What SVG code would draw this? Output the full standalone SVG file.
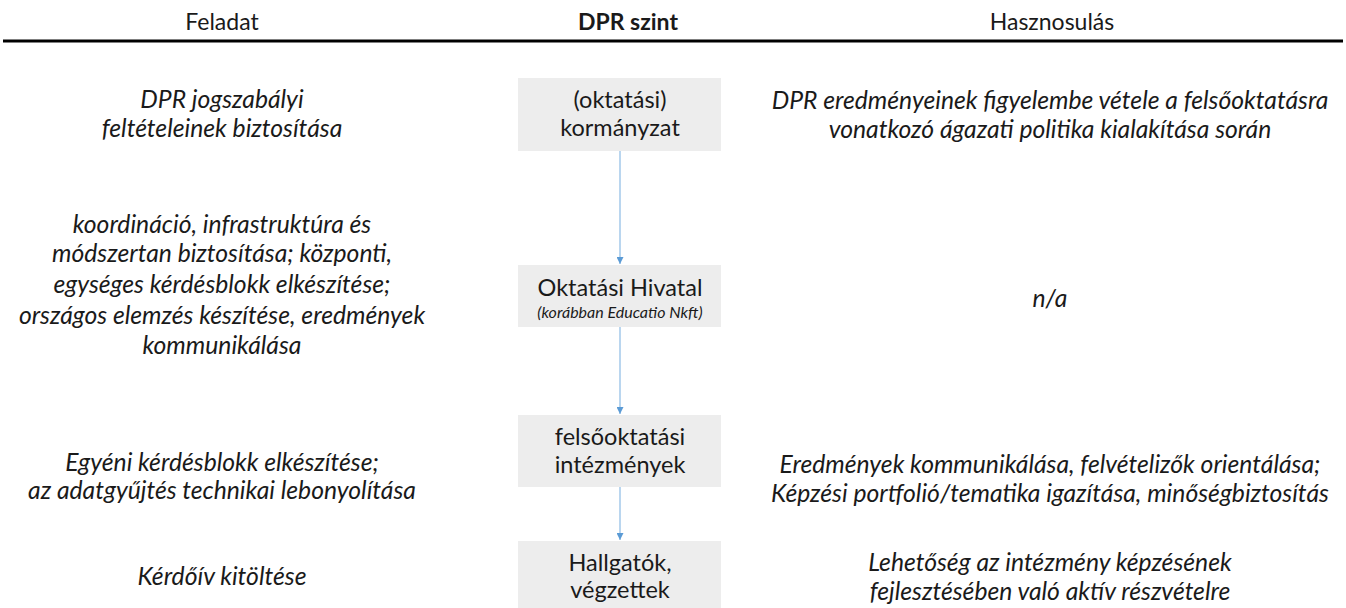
<svg xmlns="http://www.w3.org/2000/svg" width="1346" height="608" viewBox="0 0 1346 608">
<defs>
<style>
text{font-family:Lato,"Liberation Sans",sans-serif;fill:#1a1a1a;text-anchor:middle}
.hd{font-size:23px}
.hb{font-size:23px;font-weight:bold}
.it{font-size:24.7px;font-style:italic}
.bx{font-size:23.5px}
.sm{font-size:16px;font-style:italic}
.box{fill:#EDEDED}
.ln{stroke:#A9CCEB;stroke-width:1.6;fill:none}
</style>
<marker id="ah" viewBox="0 0 10 10" refX="10" refY="5" markerWidth="7" markerHeight="7" orient="auto" markerUnits="userSpaceOnUse"><path d="M0,0L10,5L0,10z" fill="#5B9BD5"/></marker>
</defs>
<rect width="1346" height="608" fill="#fff"/>
<g id="header">
<text class="hd" x="222" y="30">Feladat</text>
<text class="hb" x="628" y="30">DPR szint</text>
<text class="hd" x="1052" y="30">Hasznosulás</text>
<line x1="3" y1="41" x2="1343" y2="41" stroke="#000" stroke-width="3"/>
</g>
<g id="connectors">
<line class="ln" x1="620" y1="151" x2="620" y2="264" marker-end="url(#ah)"/>
<line class="ln" x1="620" y1="327" x2="620" y2="414" marker-end="url(#ah)"/>
<line class="ln" x1="620" y1="487" x2="620" y2="540" marker-end="url(#ah)"/>
</g>
<g id="n1">
<rect class="box" x="518" y="78" width="203" height="73"/>
<text class="bx" x="620" y="108">(oktatási)</text>
<text class="bx" x="620" y="136">kormányzat</text>
</g>
<g id="n2">
<rect class="box" x="518" y="265" width="203" height="62"/>
<text class="bx" x="620" y="296">Oktatási Hivatal</text>
<text class="sm" x="620" y="318">(korábban Educatio Nkft)</text>
</g>
<g id="n3">
<rect class="box" x="518" y="415" width="203" height="72"/>
<text class="bx" x="620" y="445">felsőoktatási</text>
<text class="bx" x="620" y="473">intézmények</text>
</g>
<g id="n4">
<rect class="box" x="518" y="541" width="203" height="67"/>
<text class="bx" x="620" y="571">Hallgatók,</text>
<text class="bx" x="620" y="598">végzettek</text>
</g>
<g id="left">
<text class="it" x="222" y="108">DPR jogszabályi</text>
<text class="it" x="222" y="137">feltételeinek biztosítása</text>
<text class="it" x="222" y="233">koordináció, infrastruktúra és</text>
<text class="it" x="222" y="262">módszertan biztosítása; központi,</text>
<text class="it" x="222" y="293">egységes kérdésblokk elkészítése;</text>
<text class="it" x="222" y="324">országos elemzés készítése, eredmények</text>
<text class="it" x="222" y="354">kommunikálása</text>
<text class="it" x="222" y="471">Egyéni kérdésblokk elkészítése;</text>
<text class="it" x="222" y="499">az adatgyűjtés technikai lebonyolítása</text>
<text class="it" x="222" y="585">Kérdőív kitöltése</text>
</g>
<g id="right">
<text class="it" x="1050" y="109">DPR eredményeinek figyelembe vétele a felsőoktatásra</text>
<text class="it" x="1050" y="138">vonatkozó ágazati politika kialakítása során</text>
<text class="it" x="1050" y="307">n/a</text>
<text class="it" x="1050" y="473">Eredmények kommunikálása, felvételizők orientálása;</text>
<text class="it" x="1050" y="502">Képzési portfolió/tematika igazítása, minőségbiztosítás</text>
<text class="it" x="1050" y="571">Lehetőség az intézmény képzésének</text>
<text class="it" x="1050" y="600">fejlesztésében való aktív részvételre</text>
</g>
</svg>
